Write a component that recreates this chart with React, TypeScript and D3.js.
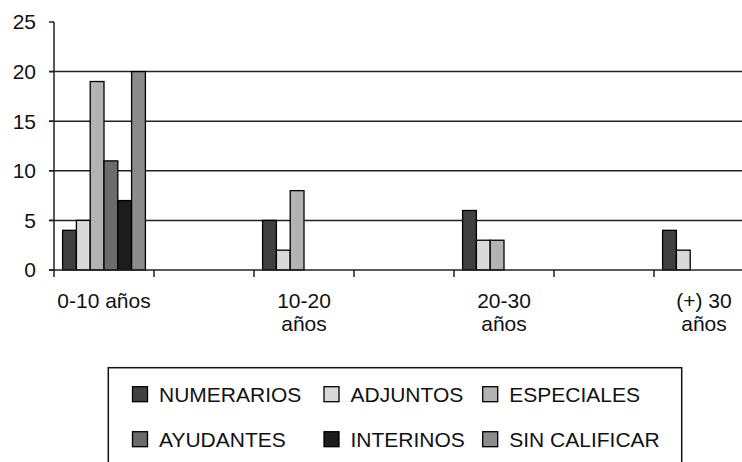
import React from "react";
import * as d3 from "d3";

const categories = ["0-10 años", "gap1", "10-20 años", "gap2", "20-30 años", "gap3", "(+) 30 años"];
const categoryLabels: string[][] = [["0-10 años"], [], ["10-20", "años"], [], ["20-30", "años"], [], ["(+) 30", "años"]];
const seriesNames = ["NUMERARIOS", "ADJUNTOS", "ESPECIALES", "AYUDANTES", "INTERINOS", "SIN CALIFICAR"];
const seriesColors = ["#404040", "#d9d9d9", "#b3b3b3", "#6b6b6b", "#1c1c1c", "#8c8c8c"];
// values per series, per category (null = no bar)
const numerarios = [4, null, 5, null, 6, null, 4];
const adjuntos = [5, null, 2, null, 3, null, 2];
const especiales = [19, null, 8, null, 3, null, null];
const ayudantes = [11, null, null, null, null, null, null];
const interinos = [7, null, null, null, null, null, null];
const sinCalificar = [20, null, null, null, null, null, null];
const seriesValues = [numerarios, adjuntos, especiales, ayudantes, interinos, sinCalificar];
const yTicks = [0, 5, 10, 15, 20, 25];
const gridValues = [5, 10, 15, 20];

const W = 742;
const H = 462;
const FONT = "'Liberation Sans', Arial, sans-serif";

export default function App() {
  const x0 = d3.scaleBand<string>().domain(categories).range([54, 754]).padding(0);
  const x1 = d3.scaleBand<string>().domain(seriesNames).range([8.6, 91.4]).padding(0);
  const y = d3.scaleLinear().domain([0, 25]).range([270, 22]);
  const bw = x0.bandwidth();

  const tickXs = categories.map((c) => x0(c)!);

  const legendCols = [132.5, 324, 482.7];
  const legendRows = [386.7, 431.7];

  return (
    <svg width={W} height={H} style={{ position: "absolute", left: 0, top: 0, background: "#fff" }} fontFamily={FONT}>
      {/* gridlines */}
      {gridValues.map((v) => (
        <line key={"g" + v} x1={49} x2={W} y1={y(v)} y2={y(v)} stroke="#222" strokeWidth={1.5} />
      ))}
      {/* y axis */}
      <line x1={54} x2={54} y1={y(25)} y2={y(0)} stroke="#222" strokeWidth={1.5} />
      {yTicks.map((v) => (
        <g key={"yt" + v}>
          <line x1={49} x2={54} y1={y(v)} y2={y(v)} stroke="#222" strokeWidth={1.5} />
          <text x={36} y={y(v)} dy="0.35em" textAnchor="end" fontSize={21} fill="#111">
            {v}
          </text>
        </g>
      ))}
      {/* bars */}
      {seriesValues.map((vals, si) =>
        vals.map((v, ci) =>
          v == null ? null : (
            <rect
              key={`b${si}-${ci}`}
              x={x0(categories[ci])! + x1(seriesNames[si])!}
              y={y(v)}
              width={x1.bandwidth()}
              height={y(0) - y(v)}
              fill={seriesColors[si]}
              stroke="#000"
              strokeWidth={1.3}
            />
          )
        )
      )}
      {/* x axis */}
      <line x1={49} x2={W} y1={y(0)} y2={y(0)} stroke="#222" strokeWidth={1.5} />
      {tickXs.map((tx, i) => (
        <line key={"xt" + i} x1={tx} x2={tx} y1={y(0)} y2={y(0) + 7} stroke="#222" strokeWidth={1.5} />
      ))}
      {categoryLabels.map((lines, ci) =>
        lines.map((t, li) => (
          <text
            key={`cl${ci}-${li}`}
            x={x0(categories[ci])! + bw / 2}
            y={308 + li * 23}
            textAnchor="middle"
            fontSize={21}
            fill="#111"
          >
            {t}
          </text>
        ))
      )}
      {/* legend */}
      <rect x={108.3} y={367.7} width={573.4} height={120} fill="none" stroke="#111" strokeWidth={1.5} />
      {seriesNames.map((s, i) => {
        const col = i % 3;
        const row = Math.floor(i / 3);
        const lx = legendCols[col];
        const ly = legendRows[row];
        return (
          <g key={"lg" + s}>
            <rect x={lx} y={ly} width={15} height={15} fill={seriesColors[i]} stroke="#000" strokeWidth={1.3} />
            <text x={lx + 26.5} y={ly + 7.5} dy="0.35em" fontSize={21} fill="#111">
              {s}
            </text>
          </g>
        );
      })}
    </svg>
  );
}
